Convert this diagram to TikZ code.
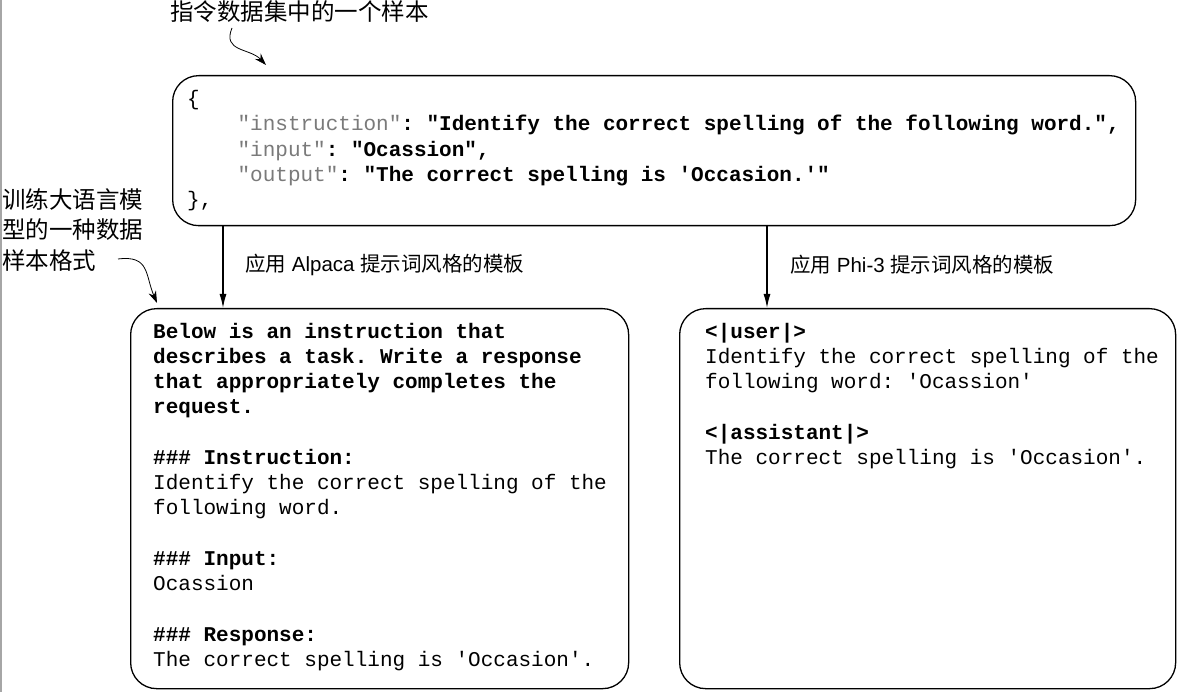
\documentclass[tikz,border=0pt]{standalone}
\usepackage{fontspec}
\setmainfont{Liberation Sans}
\setmonofont{Liberation Mono}
\newfontfamily\cjk{Noto Sans CJK SC}
\usetikzlibrary{arrows.meta}
\definecolor{keygray}{HTML}{7A7A7A}
\begin{document}
\begin{tikzpicture}[x=1pt,y=-1pt,
  box/.style={draw=black,line width=1.3pt,rounded corners=26pt,inner sep=0pt},
  code/.style={inner sep=0pt,anchor=north west,align=left,
    font=\ttfamily\fontsize{21}{25.25}\selectfont},
  cnote/.style={inner sep=0pt,font=\cjk\fontsize{23.5}{30.5}\selectfont,align=left},
  alabel/.style={inner sep=0pt,anchor=west,font=\fontsize{20.5}{24}\selectfont},
  flow/.style={line width=1.3pt,-{Latex[length=14pt,width=7pt]}},
  curvy/.style={line width=0.8pt,-{Stealth[length=12pt,width=8pt]}}]
\useasboundingbox (0,0) rectangle (1178,692);
\fill[white] (0,0) rectangle (1178,692);
\draw[gray!70,line width=2pt] (1,0) -- (1,692);
% boxes
\node[box,minimum width=963pt,minimum height=150pt,anchor=north west] (sample) at (172,75) {};
\node[box,minimum width=498pt,minimum height=380pt,anchor=north west] (alpaca) at (130,308) {};
\node[box,minimum width=496pt,minimum height=380pt,anchor=north west] (phi) at (679,308) {};
% top box text
\node[code] (sampletext) at (187,105.5-17.7) {\strut\{\\
\hspace*{50.4pt}{\color{keygray}"instruction"}\textbf{: "Identify the correct spelling of the following word.",}\\
\hspace*{50.4pt}{\color{keygray}"input"}\textbf{: "Ocassion",}\\
\hspace*{50.4pt}{\color{keygray}"output"}\textbf{: "The correct spelling is 'Occasion.'"}\\
\},};
% alpaca text
\node[code] (alpacatext) at (153,338-17.7) {\strut\textbf{Below is an instruction that}\\
\textbf{describes a task. Write a response}\\
\textbf{that appropriately completes the}\\
\textbf{request.}\\
\mbox{}\\
\textbf{\#\#\# Instruction:}\\
Identify the correct spelling of the\\
following word.\\
\mbox{}\\
\textbf{\#\#\# Input:}\\
Ocassion\\
\mbox{}\\
\textbf{\#\#\# Response:}\\
The correct spelling is 'Occasion'.};
% phi text
\node[code] (phitext) at (705,338-17.7) {\strut\textbf{<|user|>}\\
Identify the correct spelling of the\\
following word: 'Ocassion'\\
\mbox{}\\
\textbf{<|assistant|>}\\
The correct spelling is 'Occasion'.};
% arrows
\draw[flow] (sample.south -| 223,0) -- (alpaca.north -| 223,0);
\draw[flow] (sample.south -| 767,0) -- (phi.north -| 767,0);
\node[alabel] (la) at (245,265) {{\cjk 应用} Alpaca {\cjk 提示词风格的模板}};
\node[alabel] (lp) at (790,265) {{\cjk 应用} Phi-3 {\cjk 提示词风格的模板}};
% notes
\node[cnote,anchor=west] (topnote) at (170,12) {指令数据集中的一个样本};
\node[cnote,anchor=north west] (leftnote) at (2,188) {训练大语言模\\型的一种数据\\样本格式};
\coordinate (tn) at (232,28);
\coordinate (tntip) at (266,65);
\draw[curvy] (tn) .. controls (222,52) and (250,48) .. (tntip);
\coordinate (ln) at (118,259);
\coordinate (lntip) at (157,303);
\draw[curvy] (ln) .. controls (150,255) and (145,275) .. (lntip);
\end{tikzpicture}
\end{document}
